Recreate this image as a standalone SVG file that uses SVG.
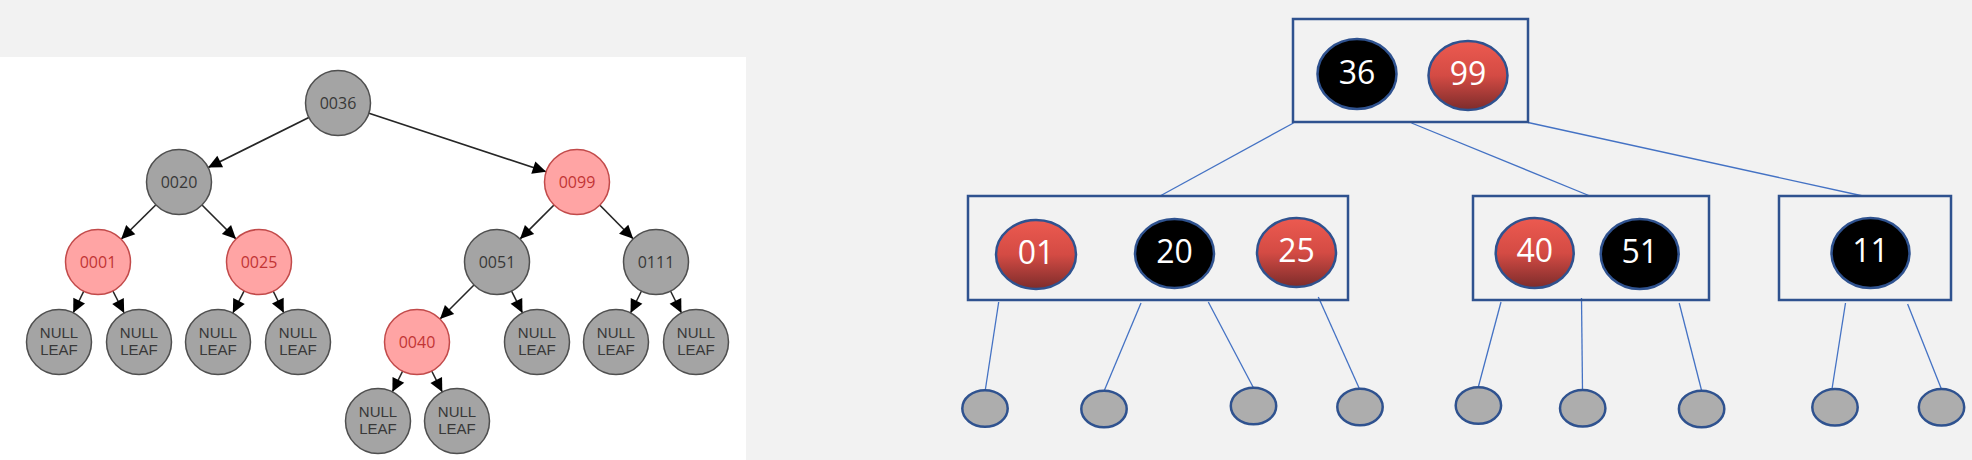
<svg xmlns="http://www.w3.org/2000/svg" width="1972" height="460" viewBox="0 0 1972 460">
<style>
.gn{fill:#a4a4a4;stroke:#4f4f4f;stroke-width:1.5}
.rn{fill:#ffa4a4;stroke:#c24a4a;stroke-width:1.5}
.gt{font-family:"Open Sans","DejaVu Sans",sans-serif;font-size:16px;fill:#383838;text-anchor:middle}
.lt{font-family:"Liberation Sans","Open Sans",sans-serif;font-size:15px;fill:#383838;text-anchor:middle}
.rt{font-family:"Open Sans","DejaVu Sans",sans-serif;font-size:16px;fill:#c23434;text-anchor:middle}
.edge{stroke:#262626;stroke-width:1.6;fill:none;marker-end:url(#arr)}
.box{fill:none;stroke:#2f528f;stroke-width:2.5}
.be{stroke:#2f528f;stroke-width:2.5}
.red{fill:url(#rg)}
.blk{fill:#000}
.bt{font-family:"Open Sans","Liberation Sans",sans-serif;font-size:32px;fill:#fff;text-anchor:middle}
.leaf{fill:#adadad;stroke:#2f528f;stroke-width:2.5}
.bl{stroke:#4472c4;stroke-width:1.3;fill:none}
</style>
<defs>
<marker id="arr" viewBox="-50 -10 50 20" refX="0" refY="0" markerWidth="50" markerHeight="20" markerUnits="userSpaceOnUse" orient="auto">
<path d="M-46,-6.5 L-32.5,0 L-46,6.5 z" fill="#000"/>
</marker>
<linearGradient id="rg" x1="0" y1="0" x2="0" y2="1">
<stop offset="0" stop-color="#ec5a50"/>
<stop offset="0.5" stop-color="#d44b44"/>
<stop offset="1" stop-color="#7d2c2b"/>
</linearGradient>
</defs>
<rect x="0" y="0" width="1972" height="460" fill="#f2f2f2"/>
<rect x="0" y="57" width="746" height="403" fill="#ffffff"/>

<g id="rb-connectors">
<line class="edge" x1="338" y1="103" x2="179" y2="182"/>
<line class="edge" x1="338" y1="103" x2="577" y2="182"/>
<line class="edge" x1="179" y1="182" x2="98" y2="262"/>
<line class="edge" x1="179" y1="182" x2="259" y2="262"/>
<line class="edge" x1="577" y1="182" x2="497" y2="262"/>
<line class="edge" x1="577" y1="182" x2="656" y2="262"/>
<line class="edge" x1="98" y1="262" x2="59" y2="342"/>
<line class="edge" x1="98" y1="262" x2="139" y2="342"/>
<line class="edge" x1="259" y1="262" x2="218" y2="342"/>
<line class="edge" x1="259" y1="262" x2="298" y2="342"/>
<line class="edge" x1="497" y1="262" x2="417" y2="342"/>
<line class="edge" x1="497" y1="262" x2="537" y2="342"/>
<line class="edge" x1="656" y1="262" x2="616" y2="342"/>
<line class="edge" x1="656" y1="262" x2="696" y2="342"/>
<line class="edge" x1="417" y1="342" x2="378" y2="421"/>
<line class="edge" x1="417" y1="342" x2="457" y2="421"/>
</g>

<g id="n0036"><circle class="gn" cx="338" cy="103" r="32.5"/><text class="gt" x="338" y="108.5">0036</text></g>
<g id="n0020"><circle class="gn" cx="179" cy="182" r="32.5"/><text class="gt" x="179" y="187.5">0020</text></g>
<g id="n0099"><circle class="rn" cx="577" cy="182" r="32.5"/><text class="rt" x="577" y="187.5">0099</text></g>
<g id="n0001"><circle class="rn" cx="98" cy="262" r="32.5"/><text class="rt" x="98" y="267.5">0001</text></g>
<g id="n0025"><circle class="rn" cx="259" cy="262" r="32.5"/><text class="rt" x="259" y="267.5">0025</text></g>
<g id="n0051"><circle class="gn" cx="497" cy="262" r="32.5"/><text class="gt" x="497" y="267.5">0051</text></g>
<g id="n0111"><circle class="gn" cx="656" cy="262" r="32.5"/><text class="gt" x="656" y="267.5">0111</text></g>
<g id="n0040"><circle class="rn" cx="417" cy="342" r="32.5"/><text class="rt" x="417" y="347.5">0040</text></g>
<g id="nl1"><circle class="gn" cx="59" cy="342" r="32.5"/><text class="lt" x="59" y="337.5">NULL</text><text class="lt" x="59" y="355">LEAF</text></g>
<g id="nl2"><circle class="gn" cx="139" cy="342" r="32.5"/><text class="lt" x="139" y="337.5">NULL</text><text class="lt" x="139" y="355">LEAF</text></g>
<g id="nl3"><circle class="gn" cx="218" cy="342" r="32.5"/><text class="lt" x="218" y="337.5">NULL</text><text class="lt" x="218" y="355">LEAF</text></g>
<g id="nl4"><circle class="gn" cx="298" cy="342" r="32.5"/><text class="lt" x="298" y="337.5">NULL</text><text class="lt" x="298" y="355">LEAF</text></g>
<g id="nl5"><circle class="gn" cx="537" cy="342" r="32.5"/><text class="lt" x="537" y="337.5">NULL</text><text class="lt" x="537" y="355">LEAF</text></g>
<g id="nl6"><circle class="gn" cx="616" cy="342" r="32.5"/><text class="lt" x="616" y="337.5">NULL</text><text class="lt" x="616" y="355">LEAF</text></g>
<g id="nl7"><circle class="gn" cx="696" cy="342" r="32.5"/><text class="lt" x="696" y="337.5">NULL</text><text class="lt" x="696" y="355">LEAF</text></g>
<g id="nl8"><circle class="gn" cx="378" cy="421" r="32.5"/><text class="lt" x="378" y="416.5">NULL</text><text class="lt" x="378" y="434">LEAF</text></g>
<g id="nl9"><circle class="gn" cx="457" cy="421" r="32.5"/><text class="lt" x="457" y="416.5">NULL</text><text class="lt" x="457" y="434">LEAF</text></g>

<g id="bt-connectors">
<line class="bl" x1="1293.5" y1="123" x2="1160" y2="196"/>
<line class="bl" x1="1411.5" y1="123" x2="1590" y2="196"/>
<line class="bl" x1="1528" y1="122.5" x2="1863" y2="196"/>
<line class="bl" x1="998.7" y1="302" x2="985.3" y2="390"/>
<line class="bl" x1="1141" y1="303" x2="1104.3" y2="390.5"/>
<line class="bl" x1="1208.3" y1="302" x2="1253.3" y2="387.5"/>
<line class="bl" x1="1318.3" y1="297" x2="1359.3" y2="388.5"/>
<line class="bl" x1="1501" y1="302" x2="1478.3" y2="387"/>
<line class="bl" x1="1581.5" y1="298" x2="1582.5" y2="390"/>
<line class="bl" x1="1679.2" y1="303" x2="1701.6" y2="390.5"/>
<line class="bl" x1="1845.5" y1="303" x2="1832" y2="389"/>
<line class="bl" x1="1907.6" y1="304" x2="1941.2" y2="388.5"/>
</g>

<g id="box-root">
<rect class="box" x="1293" y="19" width="235" height="103"/>
<ellipse class="blk be" cx="1357" cy="74" rx="39.5" ry="35"/><text class="bt" x="1357" y="83.5">36</text>
<ellipse class="red be" cx="1468" cy="75.5" rx="39.5" ry="34.5"/><text class="bt" x="1468" y="84.5">99</text>
</g>
<g id="box-left">
<rect class="box" x="968" y="196" width="380" height="104"/>
<ellipse class="red be" cx="1036" cy="254.5" rx="40" ry="34.5"/><text class="bt" x="1036" y="263.5">01</text>
<ellipse class="blk be" cx="1174.5" cy="253.5" rx="39.5" ry="34.5"/><text class="bt" x="1174.5" y="262.5">20</text>
<ellipse class="red be" cx="1296.5" cy="252.5" rx="39.5" ry="34.5"/><text class="bt" x="1296.5" y="261.5">25</text>
</g>
<g id="box-mid">
<rect class="box" x="1473" y="196" width="236" height="104"/>
<ellipse class="red be" cx="1534.7" cy="253" rx="39" ry="35"/><text class="bt" x="1534.7" y="262">40</text>
<ellipse class="blk be" cx="1639.7" cy="254" rx="39" ry="35"/><text class="bt" x="1639.7" y="263">51</text>
</g>
<g id="box-right">
<rect class="box" x="1779" y="196" width="172" height="104"/>
<ellipse class="blk be" cx="1870.5" cy="253" rx="39" ry="35"/><text class="bt" x="1870.5" y="262">11</text>
</g>

<g id="leaf1"><ellipse class="leaf" cx="985" cy="408.5" rx="22.7" ry="18.3"/></g>
<g id="leaf2"><ellipse class="leaf" cx="1104" cy="409" rx="22.7" ry="18.3"/></g>
<g id="leaf3"><ellipse class="leaf" cx="1253.5" cy="406" rx="22.7" ry="18.3"/></g>
<g id="leaf4"><ellipse class="leaf" cx="1360" cy="407" rx="22.7" ry="18.3"/></g>
<g id="leaf5"><ellipse class="leaf" cx="1478.4" cy="405.5" rx="22.7" ry="18.3"/></g>
<g id="leaf6"><ellipse class="leaf" cx="1582.7" cy="408.3" rx="22.7" ry="18.3"/></g>
<g id="leaf7"><ellipse class="leaf" cx="1701.6" cy="409" rx="22.7" ry="18.3"/></g>
<g id="leaf8"><ellipse class="leaf" cx="1835" cy="407.3" rx="22.7" ry="18.3"/></g>
<g id="leaf9"><ellipse class="leaf" cx="1941.5" cy="407.3" rx="22.7" ry="18.3"/></g>
</svg>
